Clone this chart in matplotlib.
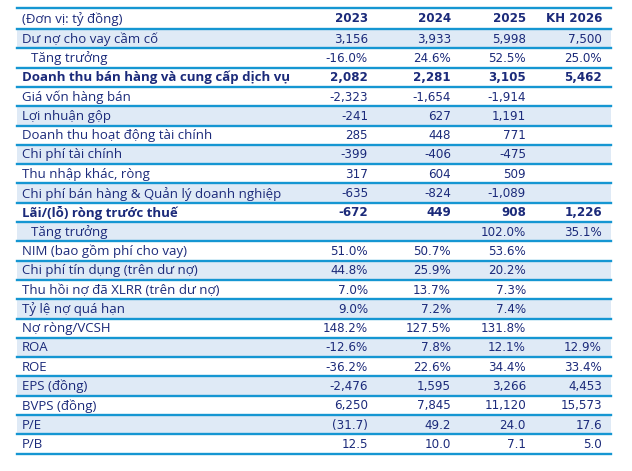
import matplotlib.pyplot as plt
from matplotlib.patches import Rectangle

labels = ["(Đơn vị: tỷ đồng)", "Dư nợ cho vay cầm cố", "Tăng trưởng",
          "Doanh thu bán hàng và cung cấp dịch vụ", "Giá vốn hàng bán", "Lợi nhuận gộp",
          "Doanh thu hoạt động tài chính", "Chi phí tài chính", "Thu nhập khác, ròng",
          "Chi phí bán hàng & Quản lý doanh nghiệp", "Lãi/(lỗ) ròng trước thuế", "Tăng trưởng",
          "NIM (bao gồm phí cho vay)", "Chi phí tín dụng (trên dư nợ)", "Thu hồi nợ đã XLRR (trên dư nợ)",
          "Tỷ lệ nợ quá hạn", "Nợ ròng/VCSH", "ROA", "ROE", "EPS (đồng)", "BVPS (đồng)", "P/E", "P/B"]
col_2023 = ["2023", "3,156", "-16.0%", "2,082", "-2,323", "-241", "285", "-399", "317", "-635", "-672", "",
            "51.0%", "44.8%", "7.0%", "9.0%", "148.2%", "-12.6%", "-36.2%", "-2,476", "6,250", "(31.7)", "12.5"]
col_2024 = ["2024", "3,933", "24.6%", "2,281", "-1,654", "627", "448", "-406", "604", "-824", "449", "",
            "50.7%", "25.9%", "13.7%", "7.2%", "127.5%", "7.8%", "22.6%", "1,595", "7,845", "49.2", "10.0"]
col_2025 = ["2025", "5,998", "52.5%", "3,105", "-1,914", "1,191", "771", "-475", "509", "-1,089", "908", "102.0%",
            "53.6%", "20.2%", "7.3%", "7.4%", "131.8%", "12.1%", "34.4%", "3,266", "11,120", "24.0", "7.1"]
col_2026 = ["KH 2026", "7,500", "25.0%", "5,462", "", "", "", "", "", "", "1,226", "35.1%",
            "", "", "", "", "", "12.9%", "33.4%", "4,453", "15,573", "17.6", "5.0"]
bold_rows = {0, 3, 10}
shaded_rows = {1, 5, 7, 9, 11, 13, 15, 17, 19, 21}
indent_rows = {2, 11}

W, H = 632, 471
fig = plt.figure(figsize=(W / 100, H / 100), dpi=100)
ax = fig.add_axes([0, 0, 1, 1])
ax.set_xlim(0, W)
ax.set_ylim(H, 0)
ax.axis("off")

navy = "#1b2a7a"
line_c = "#1596d2"
shade = "#dfeaf6"
x0, x1 = 17, 611
tops = [8] + [29 + 19.3 * i for i in range(len(labels))]
col_x = [368, 451, 526, 602]

for i, lab in enumerate(labels):
    top, bot = tops[i], tops[i + 1]
    if i in shaded_rows:
        ax.add_patch(Rectangle((x0, top), x1 - x0, bot - top, color=shade, lw=0))
    ax.plot([x0, x1], [top, top], color=line_c, lw=1.7)
    yc = (top + bot) / 2 + 0.5
    fw = "bold" if i in bold_rows else "normal"
    lab_fw = fw if i != 0 else "normal"
    ax.text(31 if i in indent_rows else 22, yc, lab, ha="left", va="center",
            fontsize=9.5, color=navy, fontweight=lab_fw, family=["Open Sans", "DejaVu Sans"])
    for cx, col in zip(col_x, [col_2023, col_2024, col_2025, col_2026]):
        ax.text(cx, yc, col[i], ha="right", va="center", fontsize=8.6, color=navy,
                fontweight=fw, family="DejaVu Sans")
ax.plot([x0, x1], [tops[-1], tops[-1]], color=line_c, lw=1.7)

fig.savefig("out.png", dpi=100)
